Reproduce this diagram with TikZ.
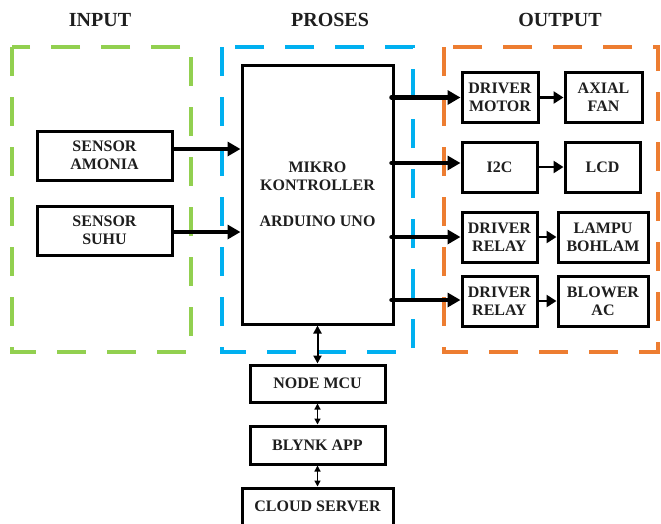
\documentclass[tikz,border=0pt]{standalone}
\usepackage{fontspec}
\setmainfont{Liberation Serif}
\usetikzlibrary{arrows.meta,calc}
\definecolor{ingreen}{RGB}{146,208,80}
\definecolor{prblue}{RGB}{0,176,240}
\definecolor{outorange}{RGB}{237,125,49}
\definecolor{txt}{RGB}{30,30,30}
\tikzset{
  blk/.style={draw=black,line width=3pt,align=center,text=txt,
    font=\bfseries\fontsize{16}{18}\selectfont,inner sep=0pt},
  title/.style={text=txt,font=\bfseries\fontsize{20}{22}\selectfont},
  dashbox/.style={line width=4pt,dash pattern=on 29pt off 21pt},
  bigarrow/.style={line width=4.5pt,line cap=round,-{Triangle[length=13pt,width=14pt]}},
  smallarrow/.style={line width=2.8pt,-{Triangle[length=10pt,width=12pt]}},
  vlink/.style={line width=2pt,{Triangle[length=8pt,width=8pt]}-{Triangle[length=8pt,width=8pt]}},
  vthin/.style={line width=1.3pt,{Triangle[length=6pt,width=6pt]}-{Triangle[length=6pt,width=6pt]}}
}
\begin{document}
\begin{tikzpicture}[x=1pt,y=-1pt]
\useasboundingbox (0,0) rectangle (661,523);
% titles
\node[title] (tin) at (100,20) {INPUT};
\node[title] (tpr) at (330,20) {PROSES};
\node[title] (tout) at (560,20) {OUTPUT};
% dashed group boxes
\draw[dashbox,draw=ingreen] (12,47) rectangle (191,352);
\draw[dashbox,draw=prblue] (222,47) rectangle (413,352);
\draw[dashbox,draw=outorange] (444,47) rectangle (658,352);
% input
\node[blk,minimum width=135pt,minimum height=49pt] (amonia) at (104.5,155.5) {SENSOR\\AMONIA};
\node[blk,minimum width=135pt,minimum height=49pt] (suhu) at (104.5,230.5) {SENSOR\\SUHU};
% process
\node[blk,minimum width=151pt,minimum height=259pt] (mcu) at (317.5,194.5) {MIKRO\\KONTROLLER\\[18pt]ARDUINO UNO};
% output
\node[blk,minimum width=76pt,minimum height=50pt] (dm) at (500,97.5) {DRIVER\\MOTOR};
\node[blk,minimum width=77pt,minimum height=50pt] (fan) at (603.5,97.5) {AXIAL\\FAN};
\node[blk,minimum width=75pt,minimum height=50pt] (i2c) at (499.5,167) {I2C};
\node[blk,minimum width=75pt,minimum height=50pt] (lcd) at (602.5,167) {LCD};
\node[blk,minimum width=75pt,minimum height=50pt] (r1) at (499.5,237) {DRIVER\\RELAY};
\node[blk,minimum width=90pt,minimum height=50pt] (lampu) at (603,237) {LAMPU\\BOHLAM};
\node[blk,minimum width=75pt,minimum height=50pt] (r2) at (499.5,301) {DRIVER\\RELAY};
\node[blk,minimum width=90pt,minimum height=50pt] (blower) at (603,301) {BLOWER\\AC};
% bottom chain
\node[blk,minimum width=135pt,minimum height=37pt] (nodemcu) at (317.5,383.5) {NODE MCU};
\node[blk,minimum width=135pt,minimum height=38pt] (blynk) at (317.5,445) {BLYNK APP};
\node[blk,minimum width=151pt,minimum height=44pt,text depth=8pt] (cloud) at (317.5,510) {CLOUD SERVER};
% input arrows
\draw[bigarrow] ([yshift=6.5pt]amonia.east) -- ([yshift=6.5pt]amonia.east -| mcu.west);
\draw[bigarrow] ([yshift=-1.5pt]suhu.east) -- ([yshift=-1.5pt]suhu.east -| mcu.west);
% output arrows
\draw[bigarrow] ([xshift=-3pt]dm.west -| mcu.east) -- (dm.west);
\draw[bigarrow] ([xshift=-3pt,yshift=4pt]i2c.west -| mcu.east) -- ([yshift=4pt]i2c.west);
\draw[bigarrow] ([xshift=-3pt]r1.west -| mcu.east) -- (r1.west);
\draw[bigarrow] ([xshift=-3pt,yshift=1pt]r2.west -| mcu.east) -- ([yshift=1pt]r2.west);
\draw[smallarrow] (dm.east) -- (fan.west);
\draw[smallarrow] (i2c.east) -- (lcd.west);
\draw[smallarrow] (r1.east) -- (lampu.west);
\draw[smallarrow] (r2.east) -- (blower.west);
% vertical links
\draw[vlink] (mcu.south) -- (nodemcu.north);
\draw[vthin] (nodemcu.south) -- (blynk.north);
\draw[vthin] (blynk.south) -- (cloud.north);
\end{tikzpicture}
\end{document}
